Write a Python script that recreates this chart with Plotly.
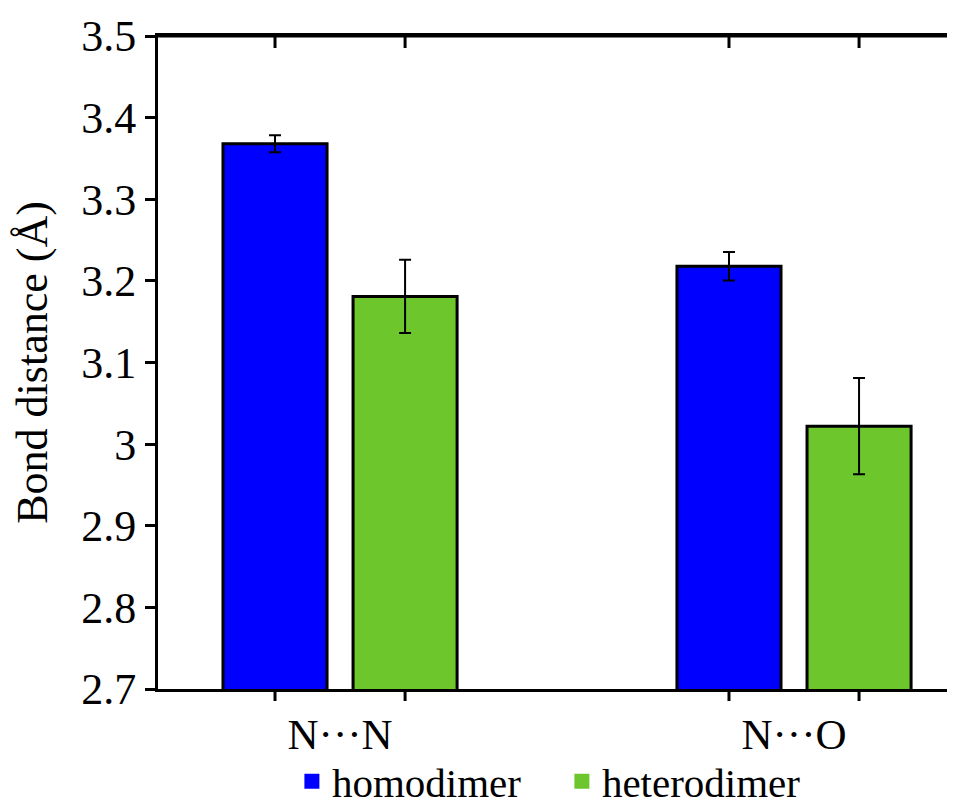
import plotly.graph_objects as go

categories = ["N\u00b7\u00b7\u00b7N", "N\u00b7\u00b7\u00b7O"]
series_names = ["homodimer", "heterodimer"]
homodimer = [3.368, 3.218]
homodimer_err = [0.0105, 0.0175]
heterodimer = [3.181, 3.022]
heterodimer_err = [0.045, 0.059]
y_tick_vals = [2.7, 2.8, 2.9, 3.0, 3.1, 3.2, 3.3, 3.4, 3.5]
y_tick_text = ["2.7", "2.8", "2.9", "3", "3.1", "3.2", "3.3", "3.4", "3.5"]

colors = ["#0000FF", "#6CC62C"]
FONT = "Times New Roman, Liberation Serif, serif"

BARGAP = 0.427
BARGROUPGAP = 0.2
XRANGE = [-0.401, 1.3546]
YRANGE = [2.7, 3.5]

positions = list(range(len(categories)))
slot = (1 - BARGAP) / 2
bar_centers = []
for p in positions:
    bar_centers += [p - slot / 2, p + slot / 2]

fig = go.Figure()
for name, vals, errs, col in [
    (series_names[0], homodimer, homodimer_err, colors[0]),
    (series_names[1], heterodimer, heterodimer_err, colors[1]),
]:
    fig.add_trace(go.Bar(
        x=categories, y=vals, name=name, showlegend=False,
        marker=dict(color=col, line=dict(color="black", width=3)),
        error_y=dict(type="data", array=errs, visible=True, color="black",
                     thickness=2, width=6),
    ))
    # legend-only entry (borderless square)
    fig.add_trace(go.Scatter(
        x=[None], y=[None], mode="markers", name=name,
        marker=dict(symbol="square", size=15, color=col),
    ))

# frame decorations: top border, tick marks at bar centres (bottom outside,
# top inside) and short inside ticks on the right edge
tick_line = dict(color="black", width=3)
y_top = YRANGE[1]
fig.add_shape(type="line", xref="paper", yref="y", x0=0, x1=1, y0=y_top, y1=y_top,
              line=tick_line, layer="above")
for c in bar_centers:
    fig.add_shape(type="line", xref="x", yref="paper", ysizemode="pixel",
                  yanchor=0, y0=0, y1=-12, x0=c, x1=c, line=tick_line, layer="above")
    fig.add_shape(type="line", xref="x", yref="y", ysizemode="pixel",
                  yanchor=y_top, y0=0, y1=-12, x0=c, x1=c, line=tick_line, layer="above")
for v in y_tick_vals[1:-1]:
    fig.add_shape(type="line", xref="paper", yref="y", xsizemode="pixel",
                  xanchor=1, x0=-4, x1=0, y0=v, y1=v, line=tick_line, layer="above")

fig.update_layout(
    width=947, height=800,
    margin=dict(l=150, r=0, t=28, b=119, autoexpand=False),
    paper_bgcolor="white", plot_bgcolor="white",
    barmode="group", bargap=BARGAP, bargroupgap=BARGROUPGAP,
    font=dict(family=FONT, size=42, color="black"),
    showlegend=True,
    legend=dict(orientation="h", x=0.168, xanchor="left",
                yref="container", y=0.033, yanchor="middle",
                font=dict(family=FONT, size=41, color="black"), itemsizing="trace",
                entrywidth=225, bgcolor="rgba(0,0,0,0)"),
    xaxis=dict(
        type="category", range=XRANGE, tickvals=categories, ticktext=categories,
        ticks="", showline=True, linecolor="black", linewidth=3, mirror=True,
        showgrid=False, zeroline=False, ticklabelstandoff=5, automargin=False,
        tickfont=dict(family=FONT, size=43, color="black"),
    ),
    yaxis=dict(
        range=YRANGE, tickvals=y_tick_vals, ticktext=y_tick_text,
        ticks="outside", ticklen=10, tickwidth=3, tickcolor="black",
        showline=True, linecolor="black", linewidth=3, mirror=False,
        showgrid=False, zeroline=False, automargin=False,
        ticklabeloverflow="allow",
        title=dict(text="Bond distance (\u00c5)", standoff=41,
                   font=dict(family=FONT, size=44, color="black")),
        tickfont=dict(family=FONT, size=44, color="black"),
    ),
)

fig.write_html("out.html", config={"displayModeBar": False})
